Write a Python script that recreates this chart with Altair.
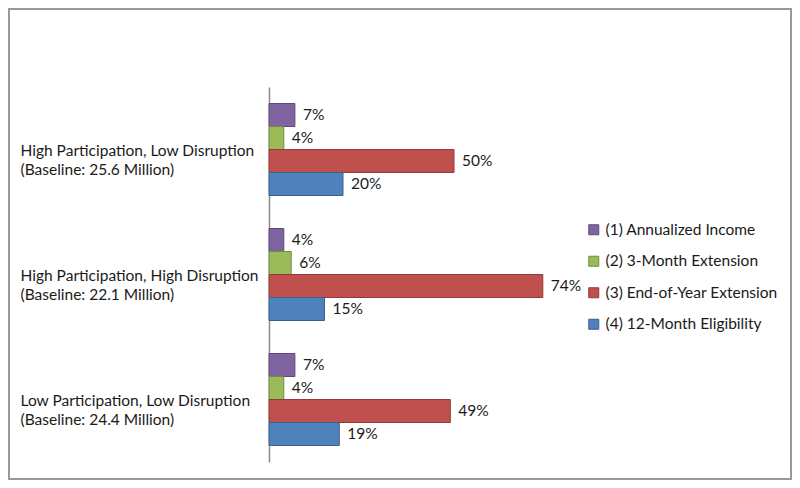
import altair as alt
import pandas as pd

scenarios = [
    "High Participation, Low Disruption",
    "High Participation, High Disruption",
    "Low Participation, Low Disruption",
]
baselines = [
    "(Baseline: 25.6 Million)",
    "(Baseline: 22.1 Million)",
    "(Baseline: 24.4 Million)",
]
series = [
    "(1) Annualized Income",
    "(2) 3-Month Extension",
    "(3) End-of-Year Extension",
    "(4) 12-Month Eligibility",
]
# values[scenario][series]
values = [
    [0.07, 0.04, 0.50, 0.20],
    [0.04, 0.06, 0.74, 0.15],
    [0.07, 0.04, 0.49, 0.19],
]
fill_colors = ["#8064A2", "#9BBB59", "#C0504D", "#4F81BD"]
stroke_colors = ["#5E4A7A", "#728A41", "#8F3B39", "#3A6090"]

rows = []
for i, sc in enumerate(scenarios):
    for j, s in enumerate(series):
        rows.append({
            "group": sc + "|" + baselines[i],
            "series": s,
            "value": values[i][j],
        })
df = pd.DataFrame(rows)
group_order = [sc + "|" + b for sc, b in zip(scenarios, baselines)]

FONT = "Lato"
TEXT = "#1a1a1a"
FS = 15.5

y_enc = alt.Y(
    "group:N",
    sort=group_order,
    scale=alt.Scale(paddingInner=0.264, paddingOuter=0.132),
    axis=alt.Axis(
        title=None,
        ticks=False,
        domainColor="#8a8a8a",
        domainWidth=1.5,
        labelAlign="left",
        labelPadding=249,
        labelBaseline="middle",
        labelOffset=1,
        labelLineHeight=19.5,
        labelLimit=400,
        labelFont=FONT,
        labelFontSize=FS,
        labelColor=TEXT,
        labelExpr="split(datum.label, '|')",
    ),
)
yoff_enc = alt.YOffset("series:N", sort=series, scale=alt.Scale(paddingInner=0, paddingOuter=0))
x_enc = alt.X("value:Q", scale=alt.Scale(domain=[0, 0.8]), axis=None)

bars = alt.Chart(df).mark_bar(strokeWidth=1).encode(
    y=y_enc,
    yOffset=yoff_enc,
    x=x_enc,
    color=alt.Color(
        "series:N",
        sort=series,
        scale=alt.Scale(domain=series, range=fill_colors),
        legend=alt.Legend(
            title=None,
            orient="none",
            legendX=317,
            legendY=135,
            symbolType="square",
            symbolSize=100,
            symbolStrokeWidth=1,
            symbolOpacity=1,
            labelFont=FONT,
            labelFontSize=FS,
            labelColor=TEXT,
            labelOffset=4,
            rowPadding=14.5,
            labelLimit=300,
        ),
    ),
    stroke=alt.Stroke(
        "series:N",
        sort=series,
        scale=alt.Scale(domain=series, range=stroke_colors),
        legend=None,
    ),
)

labels = alt.Chart(df).mark_text(
    align="left", baseline="middle", dx=8, font=FONT, fontSize=FS, color=TEXT
).encode(
    y=y_enc,
    yOffset=yoff_enc,
    x=x_enc,
    text=alt.Text("value:Q", format=".0%"),
)

border = alt.Chart(alt.Data(values=[{"a": 1}])).mark_rect(
    filled=False, stroke="#9a9a9a", strokeWidth=2
).encode(
    x=alt.value(-260), x2=alt.value(522), y=alt.value(-78), y2=alt.value(392)
)

chart = alt.layer(border, bars, labels).properties(
    width=296,
    height=375,
    autosize=alt.AutoSizeParams(type="none"),
    padding={"left": 261, "top": 79, "right": 227, "bottom": 18},
).configure(background="white", view=alt.ViewConfig(stroke=None))

chart.save("out.html", embed_options={"renderer": "svg", "actions": False})
